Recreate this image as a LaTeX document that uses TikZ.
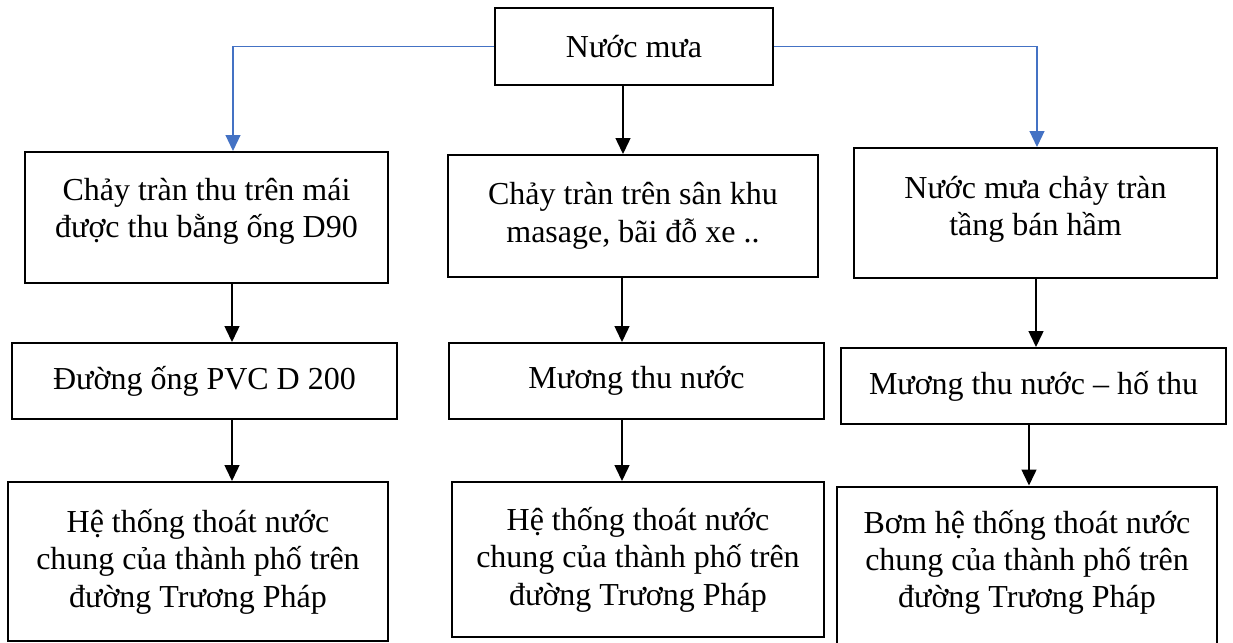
\documentclass[tikz,border=0pt]{standalone}
\usepackage{fontspec}
\setmainfont{Liberation Serif}
\usetikzlibrary{arrows.meta}
\definecolor{wordblue}{RGB}{68,114,196}
\tikzset{
  box/.style={draw,line width=1pt,align=center,inner sep=0pt,font=\fontsize{16}{18.7}\selectfont},
  flow/.style={line width=0.75pt,-{Triangle[width=7.5pt,length=8pt]}},
  flowblue/.style={wordblue,line width=0.6pt,-{Triangle[width=7.5pt,length=8pt]}}
}

\begin{document}
\begin{tikzpicture}[x=0.5pt,y=-0.5pt]
    \useasboundingbox (0,0) rectangle (1233,643);
    \node[box,minimum width=139pt,minimum height=38.5pt] (rain) at (634,46.5) {Nước mưa};

    \node[box,minimum width=181.5pt,minimum height=65.5pt,text depth=9.5pt] (L1) at (206.5,217.5) {Chảy tràn thu trên mái\\được thu bằng ống D90};
    \node[box,minimum width=192.5pt,minimum height=38pt] (L2) at (204.5,381) {Đường ống PVC D 200};
    \node[box,minimum width=190pt,minimum height=79.5pt] (L3) at (198,561.5) {Hệ thống thoát nước\\chung của thành phố trên\\đường Trương Pháp};

    \node[box,minimum width=185pt,minimum height=61pt] (M1) at (633,216) {Chảy tràn trên sân khu\\masage, bãi đỗ xe ..};
    \node[box,minimum width=187.5pt,minimum height=38pt] (M2) at (636.5,381) {Mương thu nước};
    \node[box,minimum width=186pt,minimum height=77.5pt] (M3) at (638,559.5) {Hệ thống thoát nước\\chung của thành phố trên\\đường Trương Pháp};

    \node[box,minimum width=181.5pt,minimum height=65pt,text depth=7pt] (R1) at (1035.5,213) {Nước mưa chảy tràn\\tầng bán hầm};
    \node[box,minimum width=192.5pt,minimum height=38pt] (R2) at (1033.5,386) {Mương thu nước – hố thu};
    \node[box,minimum width=190pt,minimum height=81pt,text depth=8.5pt] (R3) at (1027,567.5) {Bơm hệ thống thoát nước\\chung của thành phố trên\\đường Trương Pháp};

    \draw[flowblue] (rain.west) -| (233,0 |- L1.north);
    \draw[flowblue] (rain.east) -| (1037,0 |- R1.north);
    \draw[flow] (623,0 |- rain.south) -- (623,0 |- M1.north);

    \draw[flow] (232,0 |- L1.south) -- (232,0 |- L2.north);
    \draw[flow] (232,0 |- L2.south) -- (232,0 |- L3.north);
    \draw[flow] (622,0 |- M1.south) -- (622,0 |- M2.north);
    \draw[flow] (622,0 |- M2.south) -- (622,0 |- M3.north);
    \draw[flow] (1036,0 |- R1.south) -- (1036,0 |- R2.north);
    \draw[flow] (1029,0 |- R2.south) -- (1029,0 |- R3.north);
\end{tikzpicture}
\end{document}
